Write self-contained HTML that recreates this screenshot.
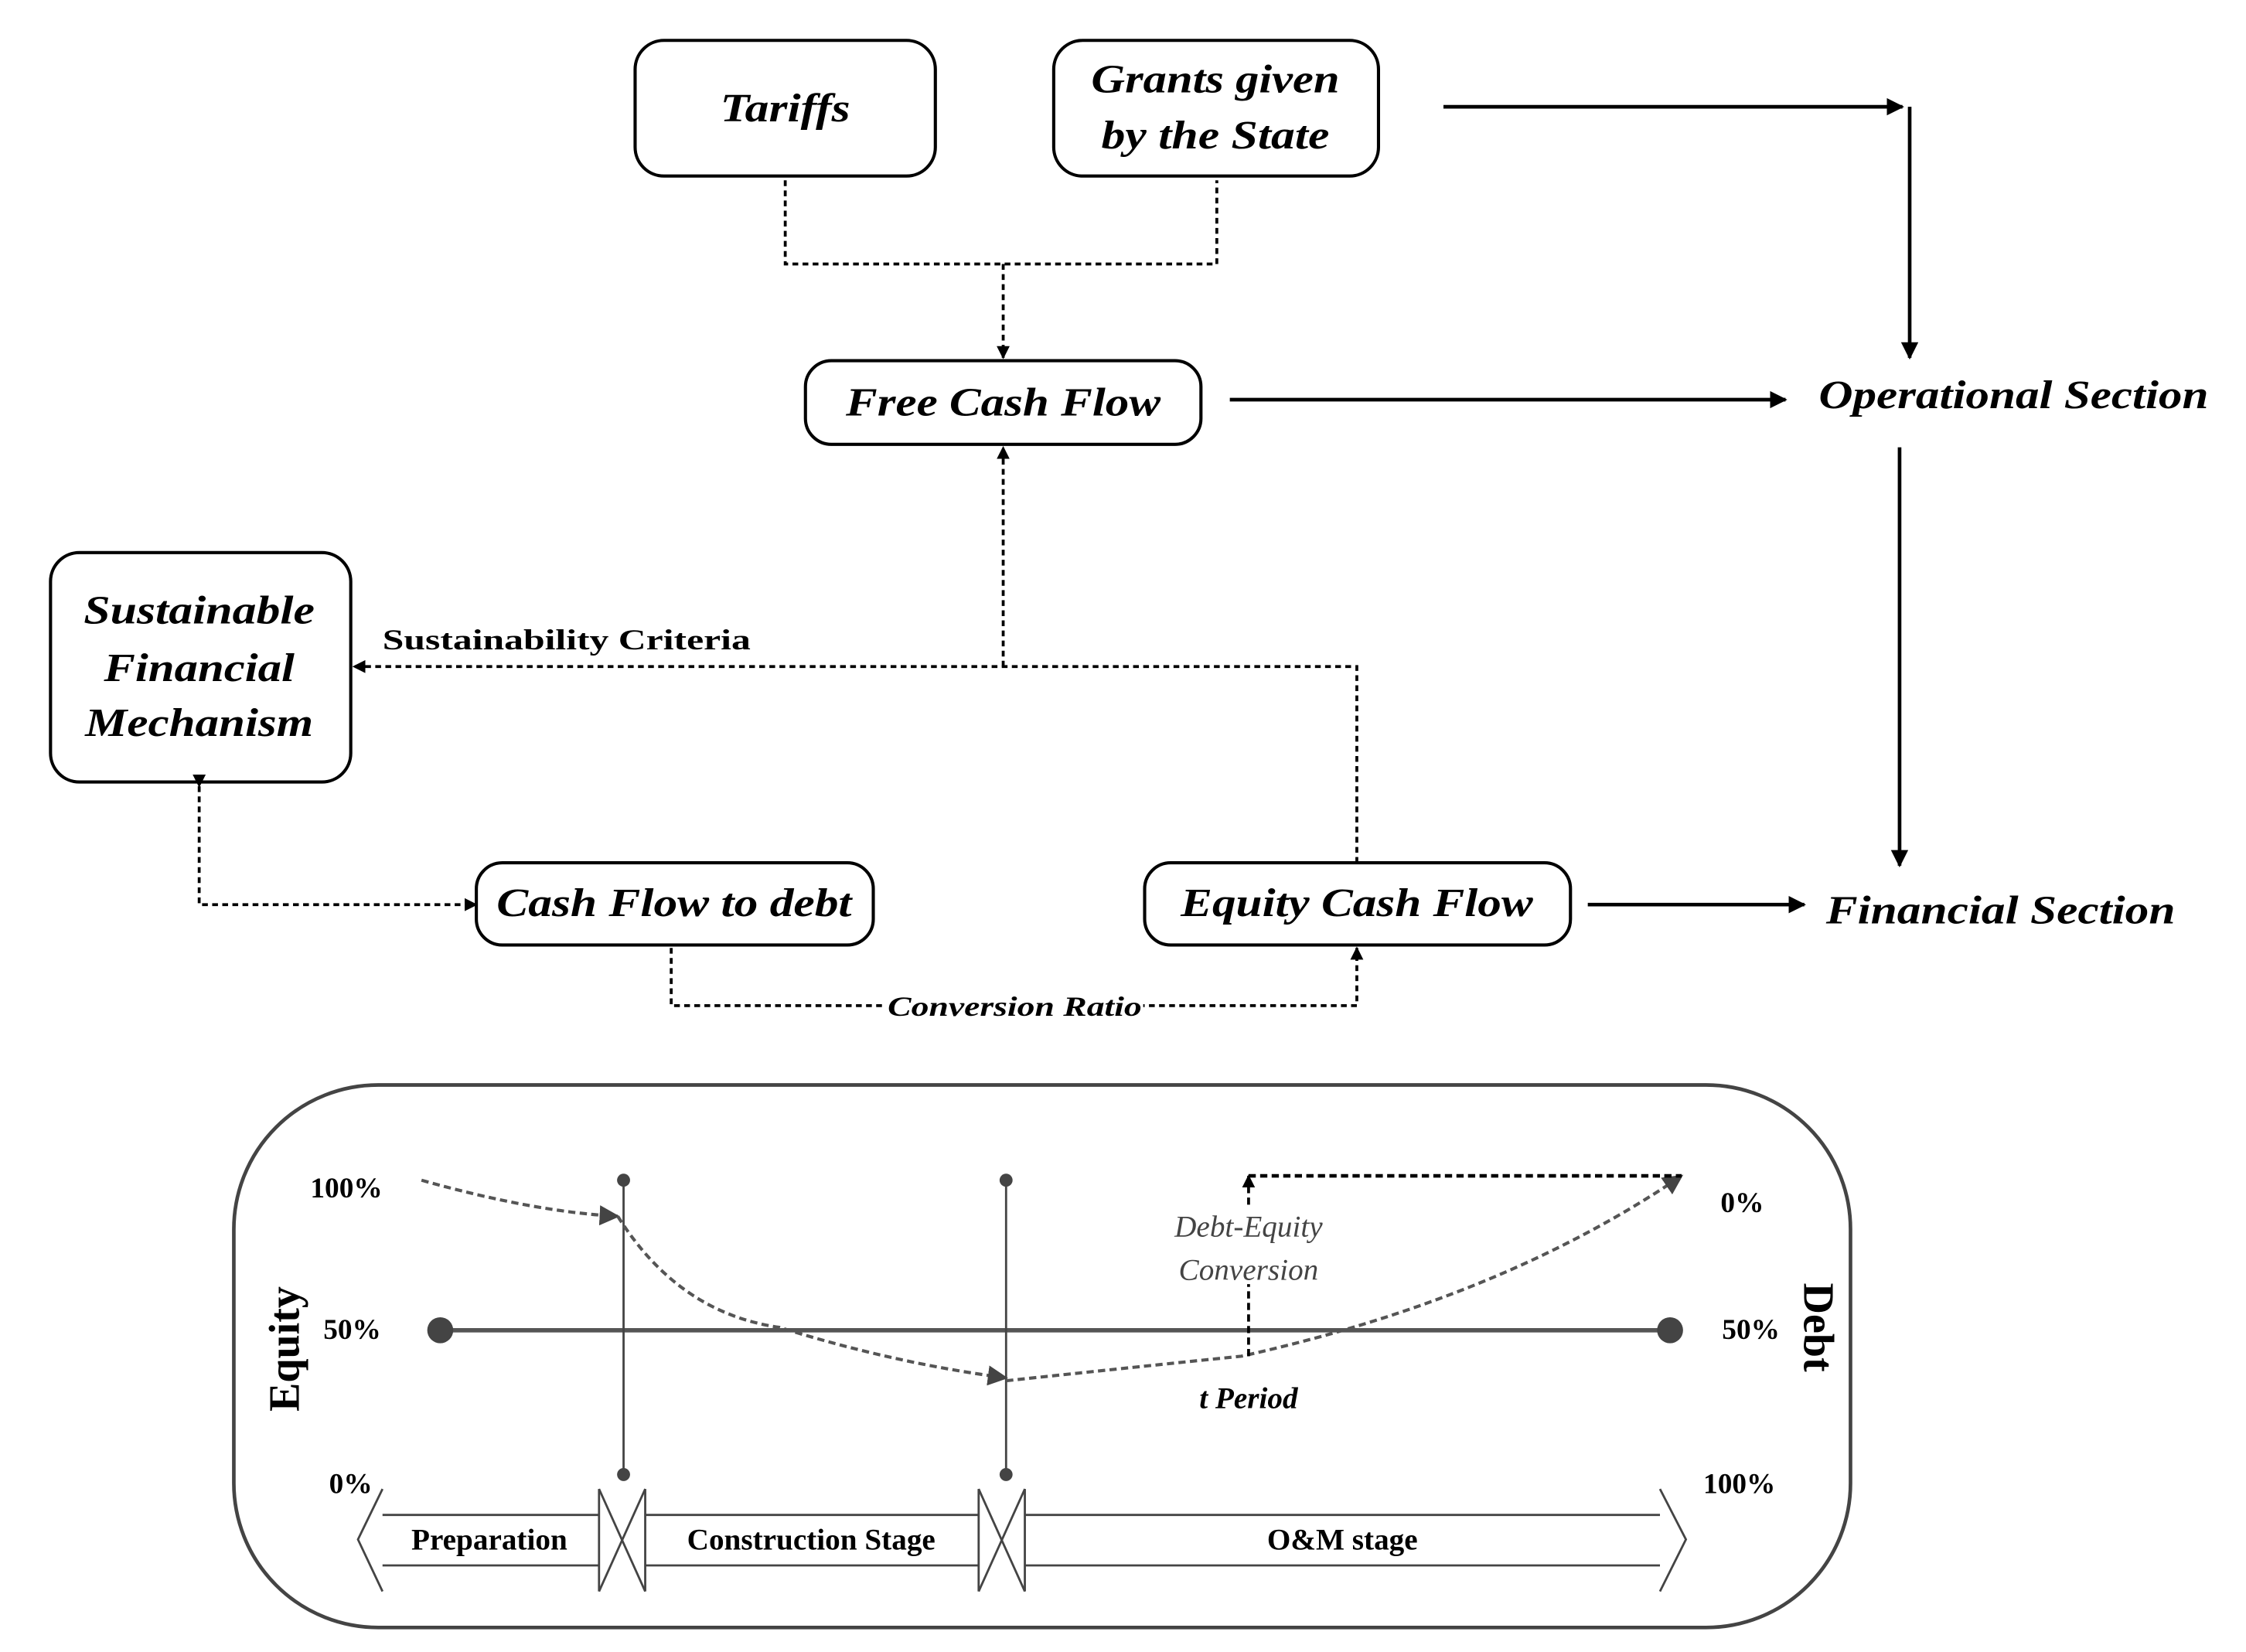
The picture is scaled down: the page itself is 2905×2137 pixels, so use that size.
<!DOCTYPE html>
<html><head><meta charset="utf-8"><style>
html,body{margin:0;padding:0;background:#fff}
svg{display:block}
text{font-family:"Liberation Serif",serif}
</style></head><body>
<svg width="2905" height="2137" viewBox="0 0 1556 1145" preserveAspectRatio="none" xmlns="http://www.w3.org/2000/svg">
<defs>
<marker id="a" viewBox="0 0 10 10" refX="9" refY="5" markerWidth="9" markerHeight="9" markerUnits="userSpaceOnUse" orient="auto"><path d="M0,0L10,5L0,10z" fill="#000"/></marker>
<marker id="b" viewBox="0 0 10 10" refX="9" refY="5" markerWidth="12" markerHeight="12" markerUnits="userSpaceOnUse" orient="auto"><path d="M0,0L10,5L0,10z" fill="#000"/></marker>
<marker id="g" viewBox="0 0 10 10" refX="9" refY="5" markerWidth="14" markerHeight="14" markerUnits="userSpaceOnUse" orient="auto"><path d="M0,0L10,5L0,10z" fill="#444"/></marker>
</defs>
<g fill="none" stroke="#000" stroke-width="2.2">
<rect x="440" y="28" width="208" height="94" rx="20"/>
<rect x="730" y="28" width="225" height="94" rx="20"/>
<rect x="558" y="250" width="274" height="58" rx="18"/>
<rect x="35" y="383" width="208" height="159" rx="20"/>
<rect x="330" y="598" width="275" height="57" rx="18"/>
<rect x="793" y="598" width="295" height="57" rx="18"/>
</g>
<g fill="none" stroke="#000" stroke-width="2" stroke-dasharray="4,3">
<polyline points="544,125 544,183 843,183 843,125"/>
<line x1="695" y1="183" x2="695" y2="248" marker-end="url(#a)"/>
<line x1="695" y1="462" x2="695" y2="310" marker-end="url(#a)"/>
<polyline points="940,598 940,462 245,462" marker-end="url(#a)"/>
<polyline points="138,545 138,627 330,627" marker-start="url(#a)" marker-end="url(#a)"/>
<polyline points="465,657 465,697 940,697 940,657" marker-end="url(#a)"/>
</g>
<g fill="none" stroke="#000" stroke-width="2.5">
<line x1="1000" y1="74" x2="1318" y2="74" marker-end="url(#b)"/>
<line x1="1323" y1="74" x2="1323" y2="248" marker-end="url(#b)"/>
<line x1="852" y1="277" x2="1237" y2="277" marker-end="url(#b)"/>
<line x1="1316" y1="310" x2="1316" y2="600" marker-end="url(#b)"/>
<line x1="1100" y1="627" x2="1250" y2="627" marker-end="url(#b)"/>
</g>
<g font-style="italic" font-weight="bold" font-size="28" text-anchor="middle" lengthAdjust="spacingAndGlyphs">
<text x="544" y="84" textLength="90" lengthAdjust="spacingAndGlyphs">Tariffs</text>
<text x="842" y="64" textLength="172" lengthAdjust="spacingAndGlyphs">Grants given</text>
<text x="842" y="103" textLength="158" lengthAdjust="spacingAndGlyphs">by the State</text>
<text x="695" y="288" textLength="218" lengthAdjust="spacingAndGlyphs">Free Cash Flow</text>
<text x="138" y="432" textLength="160" lengthAdjust="spacingAndGlyphs">Sustainable</text>
<text x="138" y="472" textLength="132" lengthAdjust="spacingAndGlyphs">Financial</text>
<text x="138" y="510" textLength="158" lengthAdjust="spacingAndGlyphs">Mechanism</text>
<text x="467" y="635" textLength="246" lengthAdjust="spacingAndGlyphs">Cash Flow to debt</text>
<text x="940" y="635" textLength="244" lengthAdjust="spacingAndGlyphs">Equity Cash Flow</text>
<text x="1395" y="283" textLength="270" lengthAdjust="spacingAndGlyphs">Operational Section</text>
<text x="1386" y="640" textLength="242" lengthAdjust="spacingAndGlyphs">Financial Section</text>
</g>
<text x="265" y="450" font-weight="bold" font-size="20" textLength="255" lengthAdjust="spacingAndGlyphs">Sustainability Criteria</text>
<rect x="612" y="684" width="180" height="24" fill="#fff"/>
<text x="703" y="704" font-weight="bold" font-style="italic" font-size="19" text-anchor="middle" textLength="176" lengthAdjust="spacingAndGlyphs">Conversion Ratio</text>

<rect x="162" y="752" width="1120" height="376" rx="100" fill="none" stroke="#444" stroke-width="2.5"/>
<line x1="305" y1="922" x2="1157" y2="922" stroke="#555" stroke-width="3"/>
<circle cx="305" cy="922" r="9" fill="#444"/><circle cx="1157" cy="922" r="9" fill="#444"/>
<g stroke="#444" stroke-width="1.5"><line x1="432" y1="818" x2="432" y2="1022"/><line x1="697" y1="818" x2="697" y2="1022"/></g>
<g fill="#444"><circle cx="432" cy="818" r="4.5"/><circle cx="432" cy="1022" r="4.5"/><circle cx="697" cy="818" r="4.5"/><circle cx="697" cy="1022" r="4.5"/></g>
<g fill="none" stroke="#555" stroke-width="2.2" stroke-dasharray="5,3">
<path d="M292,818 Q370,840 428,843" marker-end="url(#g)"/>
<path d="M428,843 Q470,910 540,920 Q620,945 697,955" marker-end="url(#g)"/>
<path d="M697,957 Q810,945 860,940 Q1040,900 1165,815" marker-end="url(#g)"/>
</g>
<g fill="none" stroke="#000" stroke-width="2" stroke-dasharray="5,3">
<line x1="865" y1="940" x2="865" y2="890"/>
<line x1="865" y1="835" x2="865" y2="815" marker-end="url(#a)"/>
<line x1="865" y1="815" x2="1165" y2="815" stroke-width="2.5"/>
</g>
<text x="865" y="857" font-style="italic" font-size="21" fill="#444" text-anchor="middle">Debt-Equity</text>
<text x="865" y="887" font-style="italic" font-size="21" fill="#444" text-anchor="middle">Conversion</text>
<text x="865" y="976" font-style="italic" font-weight="bold" font-size="21" text-anchor="middle">t Period</text>
<g font-weight="bold" font-size="20">
<text x="215" y="830">100%</text><text x="224" y="928">50%</text><text x="228" y="1035">0%</text>
<text x="1192" y="840">0%</text><text x="1193" y="928">50%</text><text x="1180" y="1035">100%</text>
</g>
<text transform="translate(207,935) rotate(-90)" font-weight="bold" font-size="30" text-anchor="middle">Equity</text>
<text transform="translate(1250,920) rotate(90)" font-weight="bold" font-size="30" text-anchor="middle">Debt</text>
<g fill="none" stroke="#444" stroke-width="1.5">
<polyline points="265,1032 248,1067 265,1103"/>
<polyline points="265,1050 415,1050"/><polyline points="265,1085 415,1085"/>
<line x1="415" y1="1032" x2="415" y2="1103"/><line x1="415" y1="1032" x2="447" y2="1103"/><line x1="415" y1="1103" x2="447" y2="1032"/>
<line x1="447" y1="1032" x2="447" y2="1103"/>
<polyline points="447,1050 678,1050"/><polyline points="447,1085 678,1085"/>
<line x1="678" y1="1032" x2="678" y2="1103"/><line x1="678" y1="1032" x2="710" y2="1103"/><line x1="678" y1="1103" x2="710" y2="1032"/>
<line x1="710" y1="1032" x2="710" y2="1103"/>
<polyline points="710,1050 1150,1050"/><polyline points="710,1085 1150,1085"/>
<polyline points="1150,1032 1168,1067 1150,1103"/>
</g>
<g font-weight="bold" font-size="21" text-anchor="middle">
<text x="339" y="1074">Preparation</text>
<text x="562" y="1074">Construction Stage</text>
<text x="930" y="1074">O&amp;M stage</text>
</g>
</svg>
</body></html>
